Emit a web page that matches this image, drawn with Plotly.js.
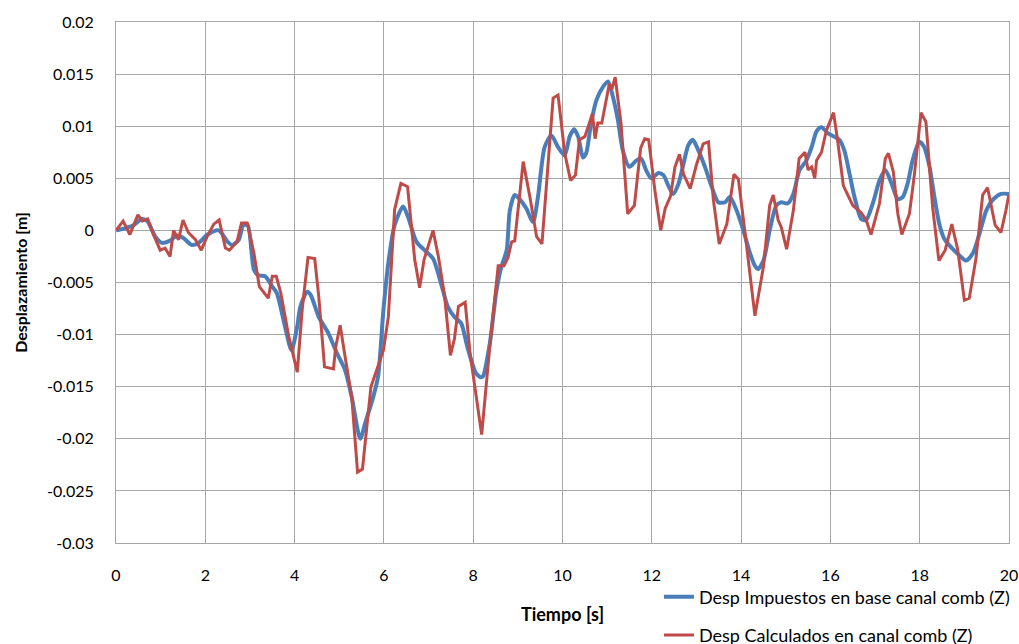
<!DOCTYPE html>
<html>
<head>
<meta charset="utf-8">
<script src="https://cdn.plot.ly/plotly-3.0.1.min.js"></script>
<style>
  html, body { margin: 0; padding: 0; background: #fff; }
  #chart { width: 1019px; height: 644px; }
</style>
</head>
<body>
<div id="chart"></div>
<script>
// Series names
const nameImpuestos = 'Desp Impuestos en base canal comb (Z)';
const nameCalculados = 'Desp Calculados en canal comb (Z)';

// Imposed base displacement (time [s], displacement [m])
const tImpuestos = [
  0, 0.2, 0.39, 0.58, 0.7, 0.88, 1.03, 1.2, 1.37, 1.5, 1.7, 1.85, 2.05, 2.3, 2.5, 2.6, 2.75, 2.85, 2.95,
  3.09, 3.19, 3.34, 3.5, 3.6, 3.8, 3.93, 4.06, 4.13, 4.28, 4.36, 4.54, 4.76, 4.95, 5.13, 5.28, 5.47, 5.58,
  5.76, 5.87, 5.99, 6.1, 6.24, 6.43, 6.54, 6.73, 6.91, 7.1, 7.28, 7.43, 7.58, 7.73, 7.87, 8.06, 8.17, 8.22,
  8.37, 8.52, 8.63, 8.75, 8.82, 8.93, 9.04, 9.19, 9.34, 9.45, 9.6, 9.75, 9.9, 10.05, 10.16, 10.26, 10.35,
  10.46, 10.53, 10.64, 10.76, 10.91, 11.02, 11.13, 11.24, 11.35, 11.5, 11.65, 11.76, 11.87, 11.99, 12.15,
  12.26, 12.37, 12.48, 12.6, 12.71, 12.82, 12.92, 13.04, 13.19, 13.34, 13.49, 13.64, 13.75, 13.9, 14.05,
  14.2, 14.31, 14.38, 14.5, 14.64, 14.79, 14.9, 15.05, 15.17, 15.31, 15.46, 15.58, 15.69, 15.8, 15.95,
  16.13, 16.2, 16.31, 16.43, 16.54, 16.69, 16.8, 16.95, 17.1, 17.23, 17.36, 17.51, 17.62, 17.73, 17.84,
  17.99, 18.1, 18.22, 18.33, 18.44, 18.55, 18.7, 18.89, 19.04, 19.19, 19.34, 19.49, 19.63, 19.82, 20.0
];
const dImpuestos = [
  0, 0.0002, 0.0005, 0.0011, 0.0009, -0.0006, -0.0012, -0.001, -0.0005, -0.0007, -0.0014, -0.0012, -0.0004,
  0.0, -0.0011, -0.0014, -0.0009, 0.0005, 0.0005,
  -0.0038, -0.0043, -0.0044, -0.0054, -0.006, -0.0095, -0.0115, -0.0092, -0.0073, -0.0059, -0.0062, -0.0083,
  -0.0099, -0.0118, -0.0134, -0.016, -0.02, -0.0185,
  -0.016, -0.014, -0.0076, -0.0031, 0.0005, 0.0023, 0.0013, -0.0011, -0.0019, -0.0027, -0.0051, -0.0073,
  -0.0083, -0.0089, -0.0112, -0.0137, -0.0141, -0.014,
  -0.0109, -0.0058, -0.0035, -0.0019, 0.0019, 0.0034, 0.003, 0.0021, 0.0008, 0.0032, 0.008, 0.0091, 0.008,
  0.0072, 0.009, 0.0097, 0.009,
  0.007, 0.0074, 0.0103, 0.0125, 0.0138, 0.0143, 0.0128, 0.0106, 0.0077, 0.0061, 0.0067, 0.0069, 0.0058,
  0.005, 0.0055,
  0.0053, 0.0043, 0.0035, 0.0045, 0.0064, 0.0082, 0.0087, 0.0077, 0.0061, 0.0042, 0.0027, 0.0027, 0.0032,
  0.0019, 0.0,
  -0.0022, -0.0034, -0.0037, -0.0029, 0.0, 0.0024, 0.0027, 0.0026, 0.0035, 0.0058, 0.0067, 0.008, 0.0095,
  0.0099, 0.0093,
  0.0089, 0.0087, 0.0077, 0.0054, 0.0032, 0.0011, 0.001, 0.0026, 0.0048, 0.0058, 0.0046, 0.003, 0.0032,
  0.0045, 0.0067,
  0.0085, 0.008, 0.0061, 0.0032, 0.0006, -0.0008, -0.0016, -0.0024, -0.0029, -0.0022, -0.0003, 0.0019,
  0.0029, 0.0035, 0.0035
];

// Computed channel displacement (time [s], displacement [m])
const tCalculados = [
  0, 0.16, 0.31, 0.49, 0.59, 0.71, 0.84, 0.99, 1.1, 1.21, 1.29, 1.4, 1.5, 1.62, 1.78, 1.91, 2.04, 2.19,
  2.31, 2.45, 2.54, 2.71, 2.81, 2.94, 3.09, 3.21, 3.41, 3.5, 3.59, 3.69, 3.87, 4.06, 4.17, 4.3, 4.45, 4.54,
  4.67, 4.87, 4.92, 5.02, 5.13, 5.28, 5.41, 5.52, 5.71, 5.84, 5.99, 6.1, 6.24, 6.38, 6.53, 6.69, 6.8, 6.9,
  7.1, 7.22, 7.36, 7.49, 7.58, 7.67, 7.82, 7.93, 8.19, 8.37, 8.56, 8.69, 8.78, 8.86, 8.93, 9.12, 9.27, 9.42,
  9.54, 9.79, 9.9, 10.05, 10.18, 10.29, 10.38, 10.5, 10.61, 10.67, 10.73, 10.79, 10.88, 11.05, 11.1, 11.18,
  11.31, 11.46, 11.61, 11.75, 11.84, 11.93, 12.07, 12.2, 12.3, 12.42, 12.52, 12.62, 12.71, 12.86, 13.0,
  13.15, 13.27, 13.38, 13.51, 13.68, 13.84, 13.94, 14.09, 14.31, 14.5, 14.64, 14.72, 14.83, 14.9, 15.02,
  15.17, 15.3, 15.43, 15.5, 15.58, 15.65, 15.69, 15.8, 15.91, 16.07, 16.16, 16.29, 16.5, 16.69, 16.8, 16.91,
  17.1, 17.23, 17.3, 17.41, 17.51, 17.6, 17.77, 17.88, 18.03, 18.14, 18.29, 18.43, 18.57, 18.72, 18.85,
  19.0, 19.11, 19.26, 19.41, 19.52, 19.69, 19.82, 19.93, 20.0
];
const dCalculados = [
  0, 0.0009, -0.0004, 0.0015, 0.0009, 0.0011, -0.0004, -0.0019, -0.0017, -0.0025, 0.0, -0.0009, 0.001,
  -0.0002, -0.0009, -0.0019, -0.0006, 0.0006,
  0.001, -0.0017, -0.0019, -0.0011, 0.0007, 0.0007, -0.0022, -0.0054, -0.0065, -0.0044, -0.0044, -0.006,
  -0.0102, -0.0136, -0.0076, -0.0026, -0.0027, -0.0063,
  -0.0131, -0.0133, -0.0112, -0.0091, -0.0121, -0.016, -0.0232, -0.0229, -0.015, -0.0134, -0.0115, -0.0083,
  0.002, 0.0045, 0.0042, -0.0028, -0.0055, -0.0028,
  0.0, -0.0025, -0.0063, -0.012, -0.0104, -0.0073, -0.0069, -0.0118, -0.0196, -0.0112, -0.0034, -0.0034,
  -0.0026, -0.0011, -0.001, 0.0066, 0.0032, -0.0006,
  -0.0013, 0.0127, 0.013, 0.0074, 0.0048, 0.0053, 0.0087, 0.009, 0.0103, 0.0112, 0.0088, 0.0103, 0.0103,
  0.0141, 0.0135, 0.0147,
  0.0103, 0.0016, 0.0024, 0.0079, 0.0088, 0.0087, 0.0038, 0.0, 0.0021, 0.0033, 0.0061, 0.0073, 0.0054,
  0.004, 0.0063,
  0.0083, 0.0085, 0.0029, -0.0013, 0.0006, 0.0054, 0.0049, -0.0003, -0.0082, -0.0035, 0.0024, 0.0034, 0.001,
  0.0003, -0.0018,
  0.0019, 0.0069, 0.0075, 0.0058, 0.0061, 0.005, 0.0067, 0.0075, 0.0096, 0.0113, 0.0087, 0.0043, 0.0024,
  0.0017, 0.001, -0.0004,
  0.0026, 0.0069, 0.0074, 0.0056, 0.0016, -0.0004, 0.0016, 0.0053, 0.0113, 0.0104, 0.0022, -0.0029, -0.0019,
  0.0006, -0.0018,
  -0.0067, -0.0065, -0.0027, 0.0034, 0.0041, 0.0005, -0.0002, 0.0019, 0.0035
];

// Axis ticks
const xTicks = [0, 2, 4, 6, 8, 10, 12, 14, 16, 18, 20];
const yTicks = [0.02, 0.015, 0.01, 0.005, 0, -0.005, -0.01, -0.015, -0.02, -0.025, -0.03];
const yTickText = ['0.02', '0.015', '0.01', '0.005', '0', '-0.005', '-0.01', '-0.015', '-0.02', '-0.025', '-0.03'];

const FONT = 'Lato, "Open Sans", "Liberation Sans", sans-serif';
const GRID = '#a6a6a6';

const traces = [
  {
    x: tImpuestos, y: dImpuestos, name: nameImpuestos, type: 'scatter', mode: 'lines',
    line: { color: '#4a7ebb', width: 4, shape: 'spline', smoothing: 0.7 },
    legendgroup: 'a'
  },
  {
    x: tCalculados, y: dCalculados, name: nameCalculados, type: 'scatter', mode: 'lines',
    line: { color: '#be4b48', width: 3 },
    legendgroup: 'b'
  }
];

const layout = {
  width: 1019, height: 644,
  paper_bgcolor: '#fff', plot_bgcolor: '#fff',
  font: { family: FONT, size: 16, color: '#000' },
  margin: { l: 116, r: 10, t: 22, b: 101, autoexpand: false },
  showlegend: true,
  legend: {
    x: 0.608, y: -0.068, xanchor: 'left', yanchor: 'top',
    font: { family: FONT, size: 18, color: '#000' },
    bgcolor: 'rgba(0,0,0,0)', borderwidth: 0,
    traceorder: 'grouped', tracegroupgap: 12
  },
  xaxis: {
    range: [0, 20], tickvals: xTicks, ticktext: xTicks.map(String),
    showgrid: true, gridcolor: GRID, gridwidth: 1,
    showline: true, linecolor: GRID, linewidth: 1, mirror: true,
    zeroline: false, ticks: '', ticklabelstandoff: 18,
    tickfont: { family: FONT, size: 16, color: '#000' },
    title: { text: '<b>Tiempo [s]</b>', font: { family: FONT, size: 18, color: '#000' }, standoff: 25 },
    fixedrange: true
  },
  yaxis: {
    range: [-0.03, 0.02], tickvals: yTicks, ticktext: yTickText,
    showgrid: true, gridcolor: GRID, gridwidth: 1,
    showline: true, linecolor: GRID, linewidth: 1, mirror: true,
    zeroline: false, ticks: '', ticklabelstandoff: 18,
    tickfont: { family: FONT, size: 16, color: '#000' },
    title: { text: '<b>Desplazamiento [m]</b>', font: { family: FONT, size: 16, color: '#000' }, standoff: 15 },
    fixedrange: true
  }
};

Plotly.newPlot('chart', traces, layout, { displayModeBar: false, staticPlot: true });
</script>
</body>
</html>
